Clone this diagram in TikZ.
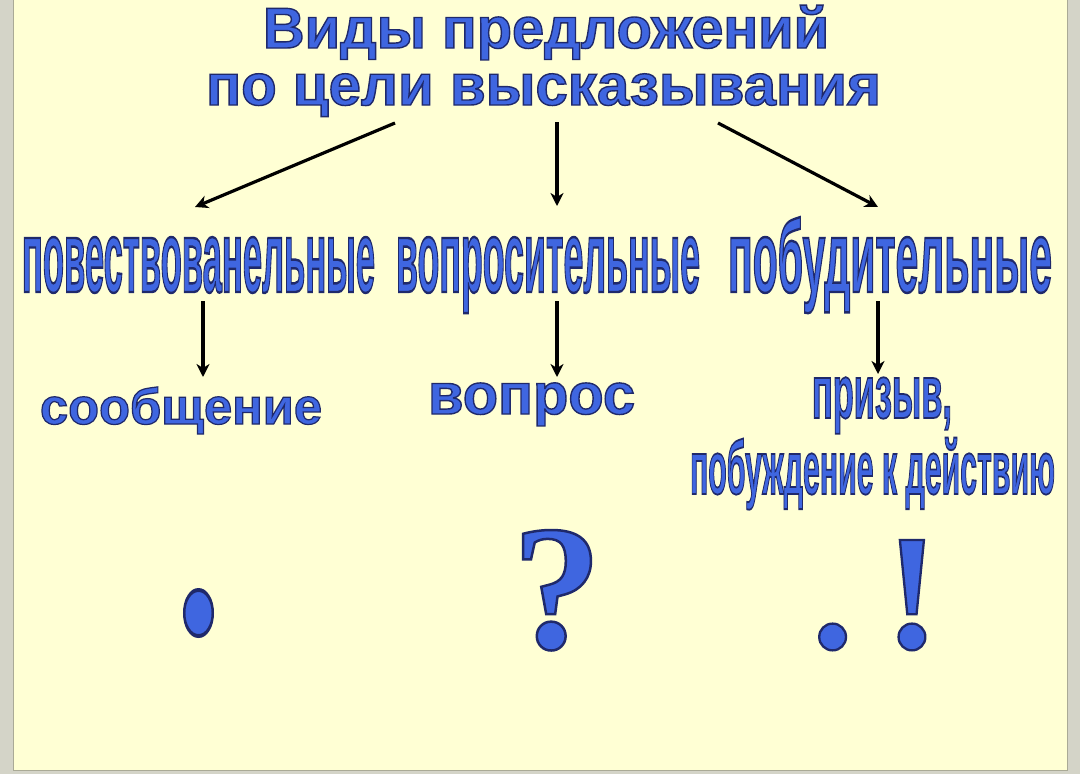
\documentclass[tikz,border=0pt]{standalone}
\usepackage{fontspec}
\setmainfont{Liberation Sans}
\newfontfamily\serifbold{Liberation Serif}
\usepackage{graphicx}
\usetikzlibrary{arrows.meta}
\definecolor{bg}{RGB}{255,255,212}
\definecolor{tblue}{RGB}{63,102,224}
\definecolor{framegrey}{RGB}{212,212,200}
\definecolor{frameline}{RGB}{170,170,150}
\newcommand\outl[1]{\special{pdf:literal 2 Tr 1.4 w 0.12 0.16 0.42 RG}#1\special{pdf:literal 0 Tr}}
\newcommand\fitx[3]{\resizebox{#1}{#2}{\raisebox{0pt}[1ex][0pt]{\outl{#3}}}}
\tikzset{
  txt/.style={inner sep=0pt, outer sep=0pt, text=tblue, anchor=base west, font=\bfseries\fontsize{58}{60}\selectfont},
  punct/.style={inner sep=0pt, outer sep=0pt, text=tblue, font=\serifbold\bfseries\fontsize{100}{100}\selectfont},
  conn/.style={line width=3.2pt, draw=black, -{Stealth[length=13pt,width=13pt,inset=4pt]}}
}
\begin{document}
\begin{tikzpicture}[x=1pt,y=-1pt]
\useasboundingbox (0,0) rectangle (1080,774);
\fill[framegrey] (0,0) rectangle (1080,774);
\fill[bg] (13,0) rectangle (1067,770);
\draw[frameline, line width=1pt] (13,0) -- (13,770) -- (1067,770) -- (1067,0);

\node[txt] (title1) at (263,48) {\resizebox{566pt}{!}{\outl{Виды предложений}}};
\node[txt] (title2) at (206,105) {\resizebox{675pt}{!}{\outl{по цели высказывания}}};

\node[txt] (w1) at (22,292) {\fitx{353pt}{54pt}{повествованельные}};
\node[txt] (w2) at (396,292) {\fitx{304pt}{54pt}{вопросительные}};
\node[txt] (w3) at (728,292) {\fitx{324pt}{54pt}{побудительные}};

\node[txt] (m1) at (40,424) {\resizebox{282pt}{!}{\outl{сообщение}}};
\node[txt] (m2) at (428,414) {\resizebox{207pt}{!}{\outl{вопрос}}};
\node[txt] (m3a) at (812,418) {\fitx{140pt}{40pt}{призыв,}};
\node[txt] (m3b) at (690,494) {\fitx{365pt}{40pt}{побуждение к действию}};

\node[punct, anchor=base] (p1) at (198.5,632) {\resizebox{44pt}{42pt}{\outl{.}}};
\node[punct, anchor=base] (p2) at (557,648) {\resizebox{!}{118pt}{\outl{?}}};
\node[punct, anchor=base west] (p3) at (812,648) {\resizebox{!}{108pt}{\outl{.\kern0.19em!}}};

\coordinate (s1) at (395,123);
\coordinate (s2) at (557,122);
\coordinate (s3) at (718,123);
\coordinate (e1) at (195,207);
\coordinate (e2) at (557,206);
\coordinate (e3) at (878,207);
\draw[conn] (s1) -- (e1);
\draw[conn] (s2) -- (e2);
\draw[conn] (s3) -- (e3);

\coordinate (v1) at (203,301);
\coordinate (v2) at (557,301);
\coordinate (v3) at (878,301);
\coordinate (u1) at (203,377);
\coordinate (u2) at (557,377);
\coordinate (u3) at (878,374);
\draw[conn] (v1) -- (u1);
\draw[conn] (v2) -- (u2);
\draw[conn] (v3) -- (u3);
\end{tikzpicture}
\end{document}
